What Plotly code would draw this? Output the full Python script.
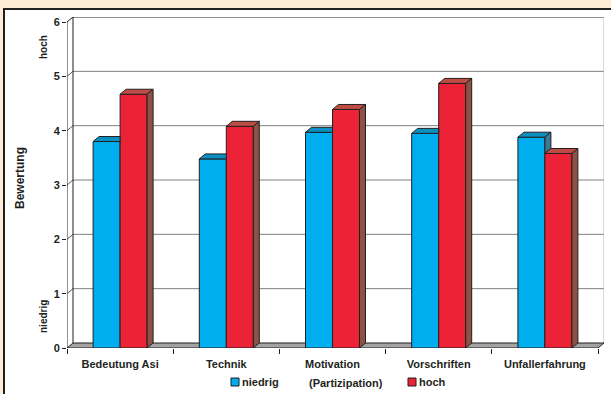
import plotly.graph_objects as go

categories = ["Bedeutung Asi", "Technik", "Motivation", "Vorschriften", "Unfallerfahrung"]
niedrig = [3.80, 3.48, 3.97, 3.95, 3.88]
hoch = [4.67, 4.08, 4.39, 4.87, 3.58]
y_ticks = [0, 1, 2, 3, 4, 5, 6]
series_names = ["niedrig", "hoch"]
x_title = "(Partizipation)"
y_title = "Bewertung"
y_low, y_high = "niedrig", "hoch"

W, H = 611, 394
ml, mr, mt, mb = 67, 7, 17, 46
pw = W - ml - mr
ph = H - mt - mb
n = len(categories)
ppc = (pw - 6) / n          # pixels per category (front plane)
D = 6 / ppc                 # depth offset in category units
ppu = (ph - 5) / 6          # pixels per value unit
DY = 5 / ppu                # depth offset in value units
BW = 27 / ppc               # bar width

BLUE, BLUE_TOP, BLUE_SIDE = "#00adef", "#0a8fc0", "#3a7a94"
RED, RED_TOP, RED_SIDE = "#ec2337", "#bf4b45", "#8d5246"
EDGE = "#231f20"
PEACH = "#fdebd5"


def px2x(px):
    return (px - ml) / pw


def py2y(py):
    return 1 - (py - mt) / ph


fig = go.Figure()
xs = list(range(n))
fig.add_trace(go.Bar(x=xs, y=niedrig, width=BW, offset=-BW, name=series_names[0],
                     marker=dict(color=BLUE, line=dict(color=EDGE, width=1)), showlegend=False))
fig.add_trace(go.Bar(x=xs, y=hoch, width=BW, offset=0, name=series_names[1],
                     marker=dict(color=RED, line=dict(color=EDGE, width=1)), showlegend=False))

bt_x, bt_y, bs_x, bs_y, rt_x, rt_y, rs_x, rs_y = [], [], [], [], [], [], [], []
for i in range(n):
    vb, vr = niedrig[i], hoch[i]
    x0, x1, x2 = i - BW, i, i + BW
    if vr >= vb:
        bt_x += [x0, x0 + D, x1, x1, x0, None]
        bt_y += [vb, vb + DY, vb + DY, vb, vb, None]
    else:
        bt_x += [x0, x0 + D, x1 + D, x1, x0, None]
        bt_y += [vb, vb + DY, vb + DY, vb, vb, None]
        bs_x += [x1, x1, x1 + D, x1 + D, x1, None]
        bs_y += [vr, vb, vb + DY, vr + DY, vr, None]
    rt_x += [x1, x1 + D, x2 + D, x2, x1, None]
    rt_y += [vr, vr + DY, vr + DY, vr, vr, None]
    rs_x += [x2, x2 + D, x2 + D, x2, x2, None]
    rs_y += [0, DY, vr + DY, vr, 0, None]

for px_, py_, col in [(bt_x, bt_y, BLUE_TOP), (bs_x, bs_y, BLUE_SIDE),
                      (rt_x, rt_y, RED_TOP), (rs_x, rs_y, RED_SIDE)]:
    if px_:
        fig.add_trace(go.Scatter(x=px_, y=py_, mode="lines", fill="toself", fillcolor=col,
                                 line=dict(color=EDGE, width=1), showlegend=False,
                                 hoverinfo="skip"))

shapes = []
# inner panel
shapes.append(dict(type="rect", xref="paper", yref="paper", x0=px2x(4), x1=px2x(620),
                   y0=py2y(9), y1=py2y(400), fillcolor="white",
                   line=dict(color=EDGE, width=2), layer="below"))
L, R = -0.5, n - 0.5
# back wall gridlines
for k in y_ticks[1:-1]:
    shapes.append(dict(type="line", xref="x", yref="y", x0=L + D, x1=R + D, y0=k + DY, y1=k + DY,
                       line=dict(color="#808080", width=1), layer="below"))
    shapes.append(dict(type="line", xref="x", yref="y", x0=L, x1=L + D, y0=k, y1=k + DY,
                       line=dict(color="#555555", width=1), layer="below"))
top = y_ticks[-1]
shapes.append(dict(type="line", xref="x", yref="y", x0=L + D, x1=R + D, y0=top + DY, y1=top + DY,
                   line=dict(color=EDGE, width=1), layer="below"))
shapes.append(dict(type="line", xref="x", yref="y", x0=R + D, x1=R + D, y0=DY, y1=top + DY,
                   line=dict(color="#b0b0b0", width=1), layer="below"))
shapes.append(dict(type="line", xref="x", yref="y", x0=L + D, x1=L + D, y0=DY, y1=top + DY,
                   line=dict(color=EDGE, width=1), layer="below"))
shapes.append(dict(type="line", xref="x", yref="y", x0=L, x1=L, y0=0, y1=top,
                   line=dict(color=EDGE, width=1), layer="below"))
shapes.append(dict(type="line", xref="x", yref="y", x0=L, x1=L + D, y0=top, y1=top + DY,
                   line=dict(color=EDGE, width=1), layer="below"))
# floor
shapes.append(dict(type="path", xref="x", yref="y",
                   path=f"M{L},0 L{R},0 L{R + D},{DY} L{L + D},{DY} Z",
                   fillcolor="#a3a3a3", line=dict(color=EDGE, width=1), layer="below"))

# legend squares
shapes.append(dict(type="rect", xref="paper", yref="paper", x0=px2x(231), x1=px2x(239),
                   y0=py2y(378), y1=py2y(386), fillcolor=BLUE, line=dict(color=EDGE, width=1)))
shapes.append(dict(type="rect", xref="paper", yref="paper", x0=px2x(408), x1=px2x(416),
                   y0=py2y(378), y1=py2y(386), fillcolor=RED, line=dict(color=EDGE, width=1)))

FONT = "Liberation Sans, Arial, sans-serif"
ann = []
ann.append(dict(text=y_title, xref="paper", yref="paper", x=px2x(20), y=py2y(178), textangle=-90,
                showarrow=False, xanchor="center", yanchor="middle",
                font=dict(family=FONT, size=12, color="#231f20", weight="bold")))
ann.append(dict(text=y_high, xref="paper", yref="paper", x=px2x(43), y=py2y(47), textangle=-90,
                showarrow=False, xanchor="center", yanchor="middle",
                font=dict(family=FONT, size=10, color="#231f20", weight="bold")))
ann.append(dict(text=y_low, xref="paper", yref="paper", x=px2x(43), y=py2y(317), textangle=-90,
                showarrow=False, xanchor="center", yanchor="middle",
                font=dict(family=FONT, size=10, color="#231f20", weight="bold")))
ann.append(dict(text=x_title, xref="paper", yref="paper", x=px2x(345.5), y=py2y(383),
                showarrow=False, xanchor="center", yanchor="middle",
                font=dict(family=FONT, size=11, color="#231f20", weight="bold")))
ann.append(dict(text=series_names[0], xref="paper", yref="paper", x=px2x(240), y=py2y(382),
                showarrow=False, xanchor="left", yanchor="middle",
                font=dict(family=FONT, size=11, color="#231f20", weight="bold")))
ann.append(dict(text=series_names[1], xref="paper", yref="paper", x=px2x(417), y=py2y(382),
                showarrow=False, xanchor="left", yanchor="middle",
                font=dict(family=FONT, size=11, color="#231f20", weight="bold")))
for a in ann:
    a["xshift"] = 0

fig.update_layout(
    width=W, height=H, margin=dict(l=ml, r=mr, t=mt, b=mb),
    paper_bgcolor=PEACH, plot_bgcolor="white",
    barmode="overlay", showlegend=False,
    shapes=shapes, annotations=ann,
    xaxis=dict(range=[L, R + D], tickvals=xs, ticktext=categories, ticks="outside", ticklen=6,
               tickcolor="rgba(0,0,0,0)", showgrid=False, zeroline=False, showline=False,
               tickfont=dict(family=FONT, size=11, color="#231f20", weight="bold"),
               minor=dict(tickmode="array", tickvals=[L + i for i in range(n + 1)], ticks="outside",
                          ticklen=5, tickcolor=EDGE, tickwidth=1, showgrid=False),
               fixedrange=True),
    yaxis=dict(range=[0, top + DY], tickvals=y_ticks, ticks="outside", ticklen=4, tickcolor=EDGE,
               showgrid=False, zeroline=False, showline=False,
               tickfont=dict(family=FONT, size=11, color="#231f20", weight="bold"),
               fixedrange=True),
)

fig.write_html("out.html")
